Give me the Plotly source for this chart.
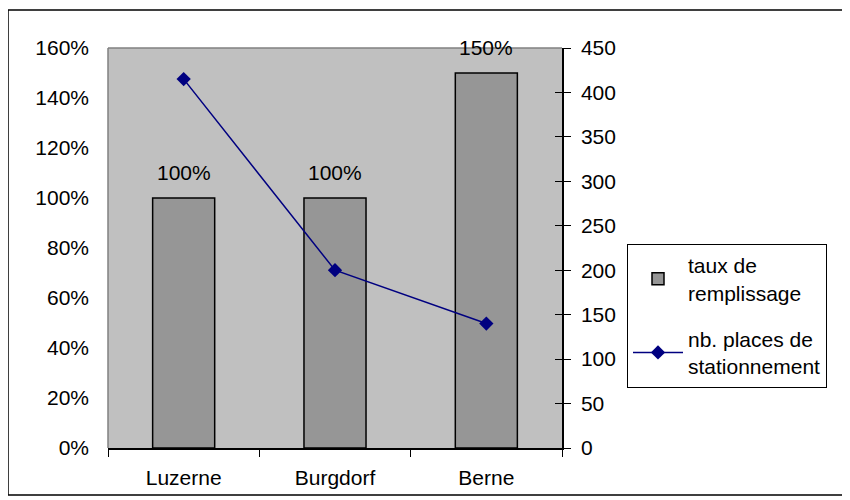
import plotly.graph_objects as go

categories = ["Luzerne", "Burgdorf", "Berne"]
taux = [1.00, 1.00, 1.50]
places = [415, 200, 140]
taux_labels = ["100%", "100%", "150%"]
left_ticks = [0, 0.2, 0.4, 0.6, 0.8, 1.0, 1.2, 1.4, 1.6]
right_ticks = [0, 50, 100, 150, 200, 250, 300, 350, 400, 450]

FONT = "Liberation Sans, Arial, sans-serif"
FS = 21

OFF = 8  # page body margin
W0, W1 = 108 - OFF, 562 - OFF
T0, T1 = 48 - OFF, 448 - OFF
FW, FH = 850 - OFF, 500 - OFF
pw = W1 - W0
ph = T1 - T0

def px(xref):
    return (xref - OFF - W0) / pw

def py(yref):
    return (T1 - (yref - OFF)) / ph

fig = go.Figure()
fig.add_trace(go.Bar(
    x=categories, y=taux, name="taux de<br>remplissage", legendgroup="g1",
    marker=dict(color="#969696", line=dict(color="black", width=1.5)),
    width=0.41, yaxis="y",
))
fig.add_trace(go.Scatter(
    x=categories, y=places, name="nb. places de<br>stationnement", legendgroup="g2",
    mode="lines+markers",
    line=dict(color="#000080", width=1.5),
    marker=dict(symbol="diamond", size=11, color="#000080"),
    yaxis="y2", cliponaxis=False,
))
# dummy trace for crossing ticks on right axis
fig.add_trace(go.Scatter(x=categories, y=[None]*3, yaxis="y3", showlegend=False, hoverinfo="skip"))

annotations = [
    dict(x=c, y=v, xref="x", yref="y", text=t, showarrow=False,
         yanchor="bottom", yshift=12, font=dict(size=FS, color="black", family=FONT))
    for c, v, t in zip(categories, taux, taux_labels)
]

fig.update_layout(
    width=FW, height=FH,
    margin=dict(l=W0, r=FW - W1, t=T0, b=FH - T1),
    paper_bgcolor="white", plot_bgcolor="#C0C0C0",
    font=dict(family=FONT, size=FS, color="black"),
    annotations=annotations,
    xaxis=dict(
        type="category", tickson="boundaries", ticks="outside", ticklen=7,
        tickcolor="black", tickwidth=1, showline=True, linecolor="black", linewidth=1.5,
        showgrid=False, zeroline=False, tickfont=dict(size=FS),
        range=[-0.5, 2.5], ticklabelstandoff=10,
    ),
    yaxis=dict(
        range=[0, 1.6], tickvals=left_ticks, tickformat=".0%",
        showgrid=False, zeroline=False, showline=False, ticks="",
        ticklabelstandoff=18, tickfont=dict(size=FS),
    ),
    yaxis2=dict(
        range=[0, 450], tickvals=right_ticks, overlaying="y", side="right",
        showgrid=False, zeroline=False, showline=True, linecolor="black", linewidth=1.5,
        ticks="outside", ticklen=7, tickcolor="black", tickwidth=1,
        ticklabelstandoff=6, tickfont=dict(size=FS),
    ),
    yaxis3=dict(
        range=[0, 450], tickvals=right_ticks, overlaying="y", side="right",
        showgrid=False, zeroline=False, showline=False,
        ticks="inside", ticklen=7, tickcolor="black", tickwidth=1,
        showticklabels=False,
    ),
    legend=dict(
        x=px(627), y=py(244), xanchor="left", yanchor="top",
        bgcolor="white", bordercolor="black", borderwidth=1,
        font=dict(size=FS), tracegroupgap=16, itemwidth=50,
    ),
    shapes=[
        dict(type="line", xref="paper", yref="paper", x0=0, x1=0, y0=0, y1=1,
             line=dict(color="#808080", width=1.5)),
        dict(type="line", xref="paper", yref="paper", x0=0, x1=1, y0=1, y1=1,
             line=dict(color="#808080", width=1.5)),
        dict(type="rect", xref="paper", yref="paper",
             x0=px(8), x1=px(848), y0=py(495), y1=py(10),
             line=dict(color="black", width=1.5), fillcolor="rgba(0,0,0,0)", layer="below"),
    ],
    showlegend=True,
)

fig.write_html("out.html")
